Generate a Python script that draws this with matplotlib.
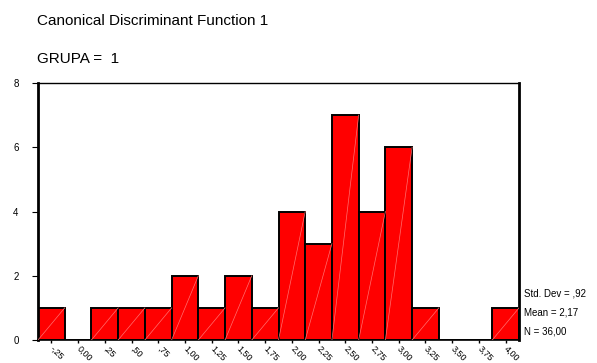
import numpy as np
import matplotlib.pyplot as plt

plt.rcParams['font.family'] = ['Liberation Sans', 'DejaVu Sans']

# histogram bins (centres) and counts
centers = [-0.25, 0.00, 0.25, 0.50, 0.75, 1.00, 1.25, 1.50, 1.75,
           2.00, 2.25, 2.50, 2.75, 3.00, 3.25, 3.50, 3.75, 4.00]
counts = [1, 0, 1, 1, 1, 2, 1, 2, 1, 4, 3, 7, 4, 6, 1, 0, 0, 1]
tick_labels = ["-,25", "0,00", ",25", ",50", ",75", "1,00", "1,25", "1,50", "1,75",
               "2,00", "2,25", "2,50", "2,75", "3,00", "3,25", "3,50", "3,75", "4,00"]
y_ticks = [0, 2, 4, 6, 8]
stats = ["Std. Dev = ,92", "Mean = 2,17", "N = 36,00"]
title1 = "Canonical Discriminant Function 1"
title2 = "GRUPA =  1"

bin_w = 0.25
W, H = 597, 363

fig = plt.figure(figsize=(W / 100, H / 100), dpi=100)
ax = fig.add_axes([38 / W, (H - 340) / H, (519 - 38) / W, (340 - 83) / H])

ax.bar(centers, counts, width=bin_w, color="#ff0000", edgecolor="black",
       linewidth=1.4, zorder=2)
# faint diagonal stripe in each bar
for c, n in zip(centers, counts):
    if n > 0:
        ax.plot([c - bin_w / 2, c + bin_w / 2], [0, n], color="#ff7070",
                lw=0.5, zorder=3)

ax.set_xlim(centers[0] - bin_w / 2, centers[-1] + bin_w / 2)
ax.set_ylim(0, 8)
ax.set_yticks(y_ticks)
ax.set_xticks(centers)
ax.set_xticklabels(tick_labels)
for lab in ax.get_xticklabels():
    lab.set_rotation(-45)
    lab.set_ha("left")
    lab.set_va("center")
    lab.set_rotation_mode("anchor")

ax.tick_params(axis="y", length=4.5, width=0.8, labelsize=7, pad=9.5)
ax.tick_params(axis="x", length=2.5, width=1.0, labelsize=6.5, pad=2.5)

ax.spines["left"].set_linewidth(2)
ax.spines["right"].set_linewidth(2)
ax.spines["top"].set_linewidth(1)
ax.spines["bottom"].set_linewidth(1.2)

fig.text(37 / W, 1 - 21 / H, title1, fontsize=11, va="center", ha="left")
fig.text(37 / W, 1 - 59 / H, title2, fontsize=11, va="center", ha="left")

for i, s in enumerate(stats):
    fig.text(524 / W, 1 - (293 + 19.5 * i) / H, s, fontsize=7, va="center", ha="left")

fig.savefig("out.png", dpi=100)
